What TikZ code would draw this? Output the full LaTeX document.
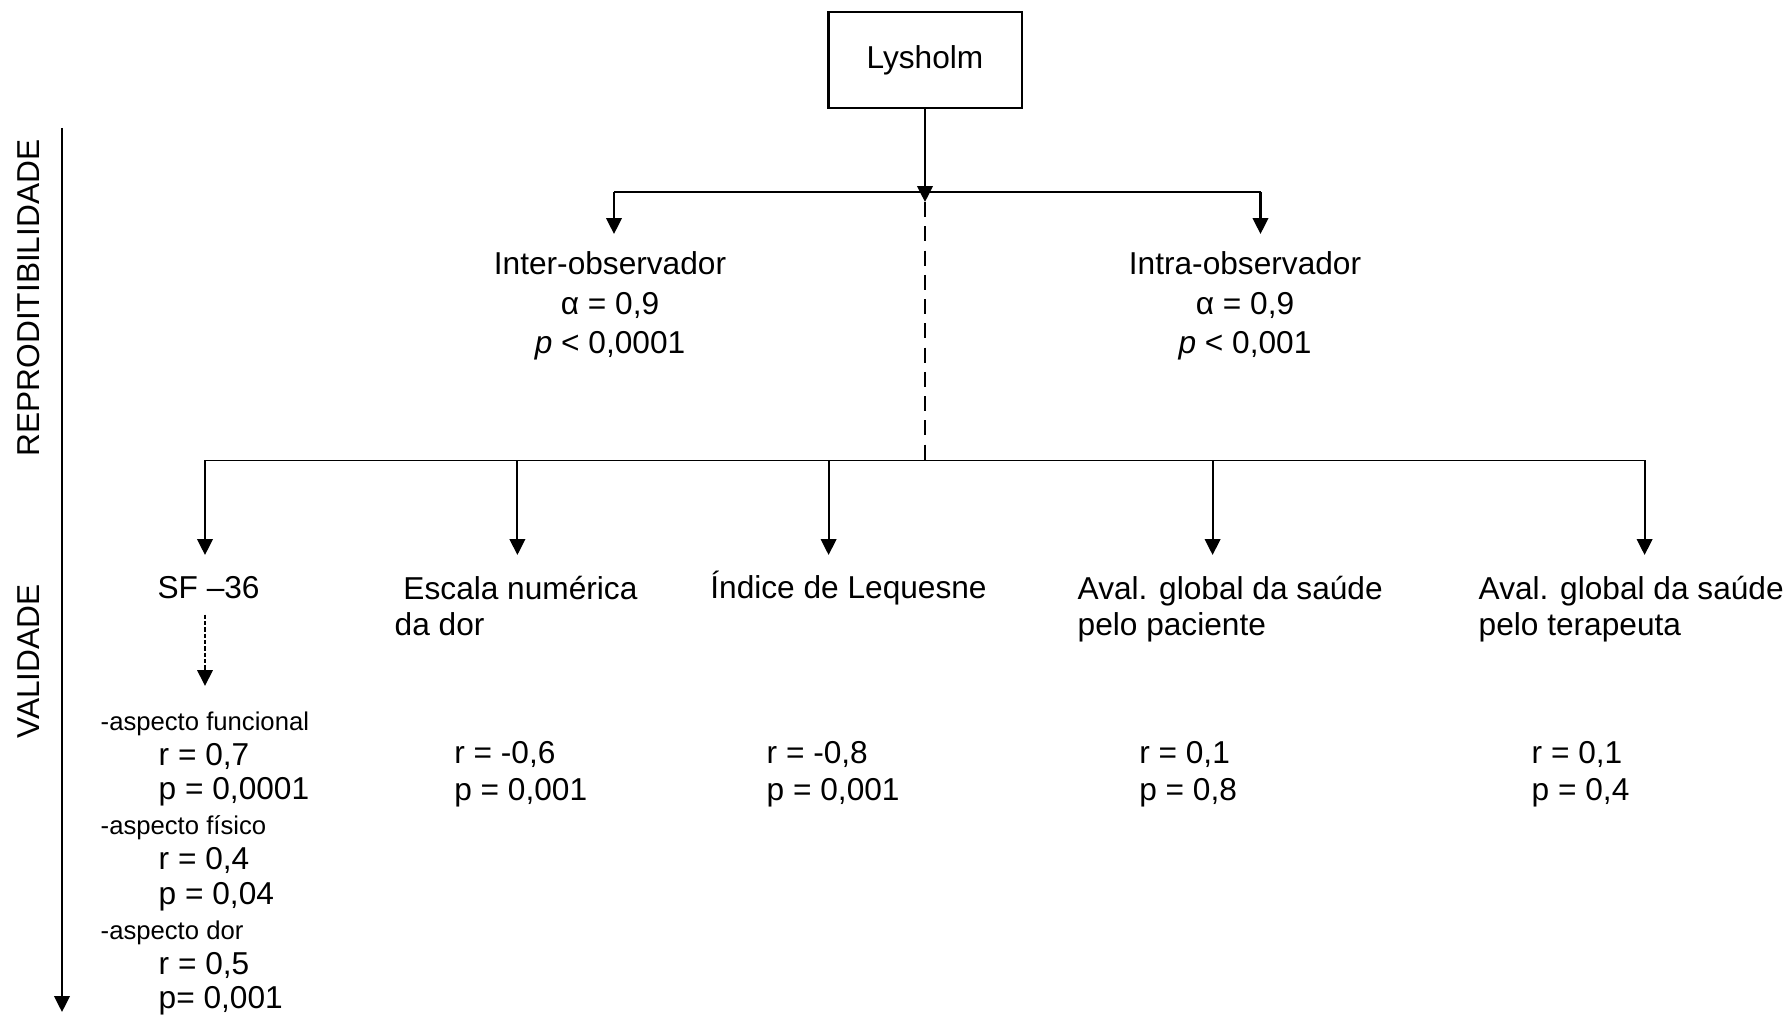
\documentclass[tikz,border=0pt]{standalone}
\usepackage{fontspec}
\setmainfont{Liberation Sans}
\usetikzlibrary{arrows.meta}
\tikzstyle{arrow} = [line width=0.6pt,-{Triangle[length=4.5pt,width=4.4pt]}]
\tikzstyle{bar} = [line width=0.45pt]
\tikzstyle{txt} = [inner sep=0pt,font=\fontsize{9}{10.4}\selectfont]
\tikzstyle{stat} = [txt,align=center,font=\fontsize{9}{11.2}\selectfont]
\tikzstyle{oneline} = [txt,text height=0.23cm]
\newcommand\asp[1]{{\fontsize{7.3}{9.9}\selectfont #1}}
\newcommand\rpind{\hspace*{0.58cm}}

\begin{document}
\begin{tikzpicture}[x=0.01cm,y=-0.01cm]
\useasboundingbox (0,0) rectangle (1787,1016);

\node[draw,line width=0.6pt,minimum width=1.93cm,minimum height=0.96cm,txt] (lysholm) at (925,60.4) {Lysholm};

\coordinate (top) at (925,202);
\coordinate (j1l) at (614,192);
\coordinate (j1r) at (1260.5,192);
\coordinate (j2) at (925,460.4);

\node[stat,anchor=north] (inter) at (610,251) {Inter-observador\\α = 0,9\\\textit{p} < 0,0001};
\node[stat,anchor=north] (intra) at (1245,251) {Intra-observador\\α = 0,9\\\textit{p} < 0,001};

\draw[arrow] (lysholm) -- (top);
\draw[bar] (j1l) -- (j1r);
\draw[line width=0.6pt,dash pattern=on 4.3pt off 2.6pt] (top) -- (j2);
\draw[arrow,shorten >=0.17cm] (j1l) -- (j1l |- inter.north);
\draw[arrow,shorten >=0.17cm] (j1r) -- (j1r |- intra.north);

\coordinate (b1) at (205,460.4);
\coordinate (b2) at (517.4,460.4);
\coordinate (b3) at (828.6,460.4);
\coordinate (b4) at (1212.6,460.4);
\coordinate (b5) at (1644.6,460.4);
\draw[bar] (b1) -- (b5);

\node[oneline,anchor=north] (sf) at (208.6,575) {SF --36};
\node[txt,align=left,anchor=north west] (escala) at (394,575) {\ Escala numérica\\da dor};
\node[oneline,anchor=north] (lequesne) at (848.5,575) {Índice de Lequesne};
\node[txt,align=left,anchor=north west] (avalpac) at (1077,575) {Aval. global da saúde\\pelo paciente};
\node[txt,align=left,anchor=north west] (avalter) at (1478,575) {Aval. global da saúde\\pelo terapeuta};

\foreach \c/\n in {b1/sf,b2/escala,b3/lequesne,b4/avalpac,b5/avalter}
  \draw[arrow,shorten >=0.2cm] (\c) -- (\c |- \n.north);

\node[txt,align=left,anchor=north west,font=\fontsize{9}{9.9}\selectfont] (sflist) at (100,711) {\asp{-aspecto funcional}\\\rpind r = 0,7\\\rpind p = 0,0001\\\asp{-aspecto físico}\\\rpind r = 0,4\\\rpind p = 0,04\\\asp{-aspecto dor}\\\rpind r = 0,5\\\rpind p= 0,001};
\draw[arrow,line width=0.45pt,dash pattern=on 1.2pt off 0.6pt,shorten <=0.15cm,shorten >=0.25cm] (b1 |- sf.south) -- (b1 |- sflist.north);

\node[txt,align=left,anchor=north west] (rp2) at (453.6,741) {r = -0,6\\p = 0,001};
\node[txt,align=left,anchor=north west] (rp3) at (766,741) {r = -0,8\\p = 0,001};
\node[txt,align=left,anchor=north west] (rp4) at (1138.6,741) {r = 0,1\\p = 0,8};
\node[txt,align=left,anchor=north west] (rp5) at (1531,741) {r = 0,1\\p = 0,4};

\coordinate (axtop) at (62,128);
\coordinate (axbot) at (62,1012);
\draw[arrow] (axtop) -- (axbot);
\node[txt,rotate=90] (repro) at (28.5,298) {REPRODITIBILIDADE};
\node[txt,rotate=90] (valid) at (28.5,661.6) {VALIDADE};

\end{tikzpicture}
\end{document}
